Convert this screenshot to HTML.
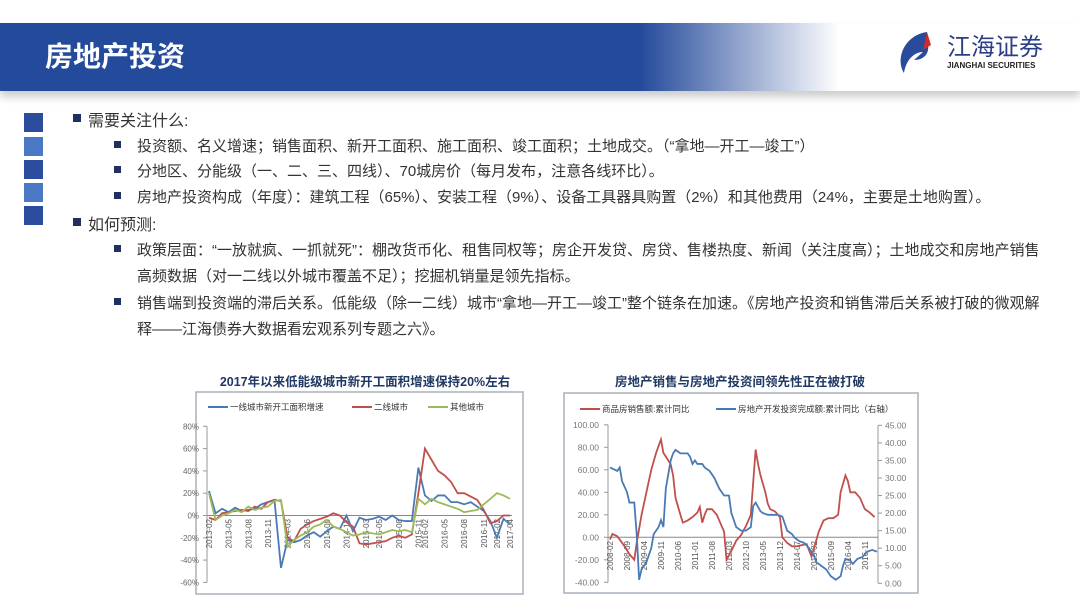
<!DOCTYPE html>
<html><head><meta charset="utf-8">
<style>
body{margin:0;width:1080px;height:608px;background:#fff;position:relative;overflow:hidden;font-family:"Liberation Sans","Noto Sans CJK SC",sans-serif;}
.a{position:absolute;white-space:nowrap;}
.t{font-size:15px;color:#333;}
.m{font-size:16px;color:#333;}
.bl{position:absolute;width:7px;height:7px;background:#1f2f5f;}
.sq{position:absolute;left:24px;width:19px;height:19px;}
</style></head><body>
<div class="a" style="left:0;top:23px;width:1080px;height:68px;background:linear-gradient(90deg,#244a9b 0px,#244a9b 640px,rgba(36,74,155,0.55) 730px,rgba(255,255,255,0) 840px);box-shadow:0 6px 8px rgba(0,0,0,0.2);"></div>
<div class="a" style="left:45px;top:35px;font-size:28px;font-weight:bold;color:#fff;">房地产投资</div>
<svg class="a" style="left:895px;top:28px" width="180" height="48">
<path d="M32 4 C10 7 0 30 9 45 C11 32 19 24 28 24 L19 32 C30 32 36 24 32 13 Z" fill="#2a4a9a"/>
<path d="M32 4 L28 22 L36 17 Z" fill="#d02a2a"/>
<text x="52" y="27" font-size="24" fill="#2a3f85" font-family="Noto Sans CJK SC,sans-serif">江海证券</text>
<text x="52" y="40" font-size="8" font-weight="bold" fill="#222" font-family="Liberation Sans,sans-serif">JIANGHAI SECURITIES</text>
</svg>
<div class="sq" style="top:113px;background:#2b4c9c"></div>
<div class="sq" style="top:137px;background:#4a78c4"></div>
<div class="sq" style="top:160px;background:#2b4c9c"></div>
<div class="sq" style="top:183px;background:#4a78c4"></div>
<div class="sq" style="top:206px;background:#2b4c9c"></div>

<div class="bl" style="left:73px;top:114px;width:8px;height:8px"></div>
<div class="a m" style="left:88px;top:107px">需要关注什么:</div>
<div class="bl" style="left:114px;top:141px"></div>
<div class="a t" style="left:137px;top:135px">投资额、名义增速；销售面积、新开工面积、施工面积、竣工面积；土地成交。（“拿地—开工—竣工”）</div>
<div class="bl" style="left:114px;top:166px"></div>
<div class="a t" style="left:137px;top:160px">分地区、分能级（一、二、三、四线）、70城房价（每月发布，注意各线环比）。</div>
<div class="bl" style="left:114px;top:192px"></div>
<div class="a t" style="left:137px;top:186px">房地产投资构成（年度）：建筑工程（65%）、安装工程（9%）、设备工具器具购置（2%）和其他费用（24%，主要是土地购置）。</div>
<div class="bl" style="left:73px;top:218px;width:8px;height:8px"></div>
<div class="a m" style="left:88px;top:211px">如何预测:</div>
<div class="bl" style="left:114px;top:245px"></div>
<div class="a t" style="left:137px;top:239px">政策层面：“一放就疯、一抓就死”：棚改货币化、租售同权等；房企开发贷、房贷、售楼热度、新闻（关注度高）；土地成交和房地产销售</div>
<div class="a t" style="left:137px;top:265px">高频数据（对一二线以外城市覆盖不足）；挖掘机销量是领先指标。</div>
<div class="bl" style="left:114px;top:298px"></div>
<div class="a t" style="left:137px;top:292px">销售端到投资端的滞后关系。低能级（除一二线）城市“拿地—开工—竣工”整个链条在加速。《房地产投资和销售滞后关系被打破的微观解</div>
<div class="a t" style="left:137px;top:318px">释——江海债券大数据看宏观系列专题之六》。</div>

<svg class="a" style="left:0;top:0" width="1080" height="608" id="charts" font-family="Liberation Sans,Noto Sans CJK SC,sans-serif"></svg>
<script>
// Chart 1 data (2013-02 .. 2017-04, Jan excluded)
const c1Ticks=["80%","60%","40%","20%","0%","-20%","-40%","-60%"];
const c1TickVals=[80,60,40,20,0,-20,-40,-60];
const c1Labels=["2013-02","2013-05","2013-08","2013-11","2014-03","2014-06","2014-09","2014-12","2015-03","2015-05","2015-08","2015-11","2016-02","2016-05","2016-08","2016-11","2017-02","2017-04"];
const tier1=[22,2,6,3,7,4,5,6,10,12,14,-47,-22,-24,-22,-18,-15,-19,-14,-10,-12,0,-14,-2,-4,-3,-1,-4,0,-4,-5,-5,43,18,13,18,18,12,12,10,12,8,4,-5,-20,-3,-8];
const tier2=[-2,-4,2,3,4,5,4,8,6,12,14,13,-20,-23,-12,-8,-5,-3,-1,2,0,-6,-10,-25,-26,-25,-24,-23,-20,-18,-20,-17,20,60,50,40,36,30,20,20,17,14,5,-7,-5,0,0];
const others=[20,-4,0,2,5,3,8,5,7,8,13,14,-28,-22,-18,-15,-10,-8,-4,-10,-12,-15,-18,-17,-15,-16,-17,-15,-13,-14,-13,-15,15,10,15,12,10,8,6,3,4,5,10,15,20,18,15];
// Chart 2 data (month offset from 2008-02)
const c2LeftTicks=["100.00","80.00","60.00","40.00","20.00","0.00","-20.00","-40.00"];
const c2LeftVals=[100,80,60,40,20,0,-20,-40];
const c2RightTicks=["45.00","40.00","35.00","30.00","25.00","20.00","15.00","10.00","5.00","0.00"];
const c2RightVals=[45,40,35,30,25,20,15,10,5,0];
const c2Labels=["2008-02","2008-09","2009-04","2009-11","2010-06","2011-01","2011-08","2012-03","2012-10","2013-05","2013-12","2014-07","2015-02","2015-09","2016-04","2016-11"];
const salesMonth=[0,1,3,4,6,8,10,11,13,15,17,19,21,22,25,26,27,29,30,32,34,36,37,38,39,40,42,44,45,47,48,50,52,54,56,58,60,61,62,64,65,66,68,70,71,73,75,77,79,81,83,84,86,88,90,92,94,95,97,98,99,101,103,105,107,109];
const salesVal=[-2,3,1,-2,-8,-15,-20,-5,20,40,60,75,87,75,65,55,35,20,13,15,18,22,27,13,20,25,25,20,15,5,-20,-12,-3,2,10,20,78,65,55,40,30,25,23,18,0,-5,-8,-8,-7,-6,-17,-10,5,15,17,17,20,40,55,50,40,40,35,25,22,18];
const investMonth=[0,3,4,5,7,8,10,11,12,13,15,17,18,20,21,22,23,25,26,27,29,32,33,34,35,36,38,39,41,43,45,47,49,50,51,52,54,56,58,59,60,62,63,65,67,69,71,72,73,75,76,78,80,82,84,85,87,89,91,93,95,96,97,99,100,102,104,106,108,110];
const investVal=[33,32,33,29,26,23,23,14,1,4,6,10,14,16,18,16,27,35,37,38,37,37,36,34,35,34,34,33,32,30,27,25,25,20,18,16,15,15,16,22,23,20.5,20,19.5,19.5,19.5,19,17,15,14,13,12,11.5,10,8,6,5,4,2,1,2,5,7,6.5,5.5,7,7.5,9,9.5,9];

const svg=document.getElementById('charts');
const NS='http://www.w3.org/2000/svg';
function mk(tag,attrs,parent){const e=document.createElementNS(NS,tag);for(const k in attrs)e.setAttribute(k,attrs[k]);(parent||svg).appendChild(e);return e;}
function txt(s,attrs){const e=mk('text',attrs);e.textContent=s;return e;}

// ---------- Chart 1 ----------
const y1=v=>515.5-v*(22.3/20);
const x1=i=>209+i*(510-209)/(tier1.length-1);
let e=txt('2017年以来低能级城市新开工面积增速保持20%左右',{x:365,y:386,'font-size':12.5,'font-weight':'bold',fill:'#1f3864','text-anchor':'middle'});


e=mk('rect',{x:196,y:392,width:327,height:202,fill:'none',stroke:'#a8b0bc','stroke-width':1.5});


c1TickVals.forEach((v,i)=>{
  const t=txt(c1Ticks[i],{x:199,y:y1(v)+3,'font-size':8,fill:'#666','text-anchor':'end'});
  
  
  mk('line',{x1:203,x2:207,y1:y1(v),y2:y1(v),stroke:'#999'});
});
mk('line',{x1:207,x2:207,y1:y1(80),y2:y1(-60),stroke:'#999'});
e=mk('line',{x1:207,x2:512,y1:y1(0),y2:y1(0),stroke:'#888'});


const c1LabelIdx=[0,3,6,9,12,15,18,21,24,26,29,32,33,36,39,42,44,46];
c1Labels.forEach((l,k)=>{
  const xx=x1(c1LabelIdx[k])+3;
  const t=txt(l,{x:0,y:0,'font-size':8,fill:'#555','text-anchor':'end',transform:`translate(${xx},519) rotate(-90)`});
  
  
});
[[tier1,'#4a7ab5','chart1-tier1-line'],[tier2,'#c0504d','chart1-tier2-line'],[others,'#9bbb59','chart1-others-line']].forEach(([arr,c,n])=>{
  const p=mk('polyline',{points:arr.map((v,i)=>x1(i)+','+y1(v)).join(' '),fill:'none',stroke:c,'stroke-width':1.8});
  
  
});
const leg1=[['一线城市新开工面积增速','#4a7ab5',208],['二线城市','#c0504d',352],['其他城市','#9bbb59',428]];
leg1.forEach(([s,c,x])=>{
  mk('line',{x1:x,x2:x+20,y1:407,y2:407,stroke:c,'stroke-width':2});
  const t=txt(s,{x:x+22,y:410,'font-size':8.5,fill:'#333'});
  
  
});

// ---------- Chart 2 ----------
const yl=v=>537.3-v*(22.5/20);
const yr=v=>583.3-v*(158/45);
const x2=m=>610+m*(877-610)/110;
e=txt('房地产销售与房地产投资间领先性正在被打破',{x:740,y:386,'font-size':12.5,'font-weight':'bold',fill:'#1f3864','text-anchor':'middle'});


e=mk('rect',{x:564,y:393,width:354,height:200,fill:'none',stroke:'#a8b0bc','stroke-width':1.5});


c2LeftVals.forEach((v,i)=>{
  const t=txt(c2LeftTicks[i],{x:599,y:yl(v)+3,'font-size':8.5,fill:'#777','text-anchor':'end'});
  
  
  mk('line',{x1:604,x2:608,y1:yl(v),y2:yl(v),stroke:'#999'});
});
c2RightVals.forEach((v,i)=>{
  const t=txt(c2RightTicks[i],{x:885,y:yr(v)+3,'font-size':8.5,fill:'#777'});
  
  
  mk('line',{x1:878,x2:882,y1:yr(v),y2:yr(v),stroke:'#999'});
});
mk('line',{x1:608,x2:608,y1:yl(100),y2:yl(-40),stroke:'#999'});
mk('line',{x1:878,x2:878,y1:yr(45),y2:yr(0),stroke:'#999'});
e=mk('line',{x1:608,x2:878,y1:yl(0),y2:yl(0),stroke:'#888'});


c2Labels.forEach((l,k)=>{
  const xx=x2(k*7)+3;
  const t=txt(l,{x:0,y:0,'font-size':8,fill:'#555','text-anchor':'end',transform:`translate(${xx},541) rotate(-90)`});
  
  
});
e=mk('polyline',{points:salesMonth.map((m,i)=>x2(m)+','+yl(salesVal[i])).join(' '),fill:'none',stroke:'#c0504d','stroke-width':1.8});


e=mk('polyline',{points:investMonth.map((m,i)=>x2(m)+','+yr(investVal[i])).join(' '),fill:'none',stroke:'#4a7ab5','stroke-width':1.8});


const leg2=[['商品房销售额:累计同比','#c0504d',580],['房地产开发投资完成额:累计同比（右轴）','#4a7ab5',716]];
leg2.forEach(([s,c,x])=>{
  mk('line',{x1:x,x2:x+20,y1:409,y2:409,stroke:c,'stroke-width':2});
  const t=txt(s,{x:x+22,y:412,'font-size':8.5,fill:'#333'});
  
  
});
</script>
</body></html>
